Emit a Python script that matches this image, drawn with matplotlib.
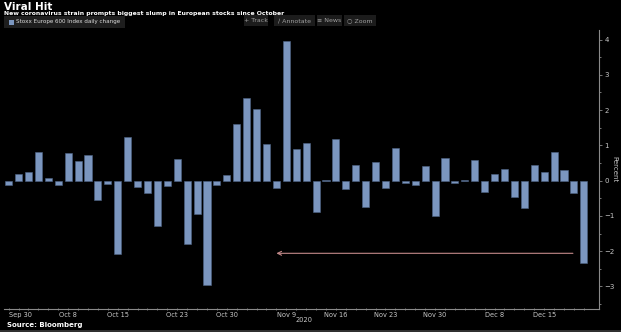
import numpy as np
import matplotlib

matplotlib.use("Agg")
import matplotlib.pyplot as plt
from matplotlib.lines import Line2D
from matplotlib.patches import Rectangle

# daily % change, Stoxx Europe 600, trading days Sep 30 -> Dec 21 2020
CHANGE = [
    -0.11, 0.19, 0.24, 0.80, 0.07, -0.11, 0.77, 0.55, 0.72, -0.56,
    -0.09, -2.08, 1.25, -0.19, -0.36, -1.30, -0.15, 0.61, -1.81, -0.94,
    -2.95, -0.11, 0.17, 1.60, 2.33, 2.04, 1.04, -0.20, 3.97, 0.89,
    1.07, -0.89, 0.01, 1.18, -0.25, 0.44, -0.75, 0.52, -0.20, 0.92,
    -0.08, -0.12, 0.42, -0.99, 0.65, -0.07, 0.01, 0.58, -0.31, 0.20,
    0.32, -0.45, -0.77, 0.43, 0.25, 0.82, 0.29, -0.35, -2.33,
]
TICK_IDX = [0, 6, 11, 17, 22, 28, 33, 38, 43, 49, 54]
TICK_LABELS = ["Sep 30", "Oct 8", "Oct 15", "Oct 23", "Oct 30", "Nov 9",
               "Nov 16", "Nov 23", "Nov 30", "Dec 8", "Dec 15"]
Y_TICKS = [-3, -2, -1, 0, 1, 2, 3, 4]
ARROW_FROM, ARROW_TO, ARROW_Y = 56.9, 27.0, -2.06

BG = "black"
BAR = "#7b96bf"
AXC = "#8a8a8a"
TXT = "#c8c8c8"

fig = plt.figure(figsize=(6.21, 3.32), dpi=100, facecolor=BG)
ax = fig.add_axes([3.7 / 621, 0.0702, 595 / 621, 0.8395], facecolor=BG)

x = np.arange(len(CHANGE))
ax.bar(x, CHANGE, width=0.72, color=BAR, edgecolor="#4e6485", linewidth=0.4)

ax.annotate("", xy=(ARROW_TO, ARROW_Y), xytext=(ARROW_FROM, ARROW_Y),
            arrowprops=dict(arrowstyle="->", color="#c48a8a", lw=0.8,
                            mutation_scale=7, shrinkA=0, shrinkB=0))

ax.set_xlim(-0.5, 59.5)
ax.set_ylim(-3.63, 4.27)
for s in ("top", "left"):
    ax.spines[s].set_visible(False)
for s in ("right", "bottom"):
    ax.spines[s].set_color(AXC)
    ax.spines[s].set_linewidth(0.8)

ax.yaxis.tick_right()
ax.yaxis.set_label_position("right")
ax.set_yticks(Y_TICKS)
ax.set_yticklabels([f"{v}".replace("-", "\u2212") for v in Y_TICKS])
ax.set_yticks(np.arange(-3.5, 4.5, 1.0), minor=True)
ax.tick_params(axis="y", which="both", colors=AXC, labelcolor=TXT,
               labelsize=5, length=2.5, width=0.6, pad=1.5)
ax.tick_params(axis="y", which="minor", length=1.5)
ax.set_ylabel("Percent", rotation=270, color=TXT, fontsize=5, labelpad=2)

ax.set_xticks(TICK_IDX)
ax.set_xticklabels(TICK_LABELS)
ax.set_xticks(x, minor=True)
ax.tick_params(axis="x", which="both", colors=AXC, labelcolor=TXT,
               labelsize=4.8, length=1.5, width=0.6, pad=1.5, direction="inout")
ax.get_xticklabels()[0].set_horizontalalignment("left")
ax.text(28 + 1.8, -0.03, "2020", transform=ax.get_xaxis_transform(),
        ha="center", va="top", fontsize=4.8, color=TXT)

# header
fig.text(4 / 621, 1 - 2 / 332, "Viral Hit", ha="left", va="top",
         fontsize=7.5, fontweight="bold", color="white")
fig.text(4 / 621, 1 - 10.5 / 332,
         "New coronavirus strain prompts biggest slump in European stocks since October",
         ha="left", va="top", fontsize=4.4, fontweight="bold", color="white")

# legend box
fig.add_artist(Rectangle((4 / 621, 1 - 28 / 332), 121 / 621, 12 / 332,
                         transform=fig.transFigure, facecolor="#1e1e1e",
                         edgecolor="none"))
fig.add_artist(Rectangle((9 / 621, 1 - 24.5 / 332), 4.5 / 621, 4.5 / 332,
                         transform=fig.transFigure, facecolor=BAR,
                         edgecolor="none"))
fig.text(16 / 621, 1 - 22 / 332, "Stoxx Europe 600 Index daily change",
         ha="left", va="center", fontsize=4.1, color="#dddddd")

# toolbar
for x0, x1, lab in [(244, 268, "+ Track"), (274, 315, "\u2215 Annotate"),
                    (317, 342, "\u2261 News"), (344, 376, "\u25cb Zoom")]:
    fig.add_artist(Rectangle((x0 / 621, 1 - 26 / 332), (x1 - x0) / 621, 11 / 332,
                             transform=fig.transFigure, facecolor="#1c1c1c",
                             edgecolor="none"))
    fig.text((x0 + x1) / 2 / 621, 1 - 20.5 / 332, lab, ha="center",
             va="center", fontsize=4.5, color="#a0a0a0")

fig.text(7 / 621, 1 - 325 / 332, "Source: Bloomberg", ha="left", va="center",
         fontsize=5, fontweight="bold", color="white")
fig.add_artist(Line2D([0, 1], [1.5 / 332, 1.5 / 332], transform=fig.transFigure,
                      color="#3a3a3a", lw=1.2))

fig.savefig("out.png", dpi=100, facecolor=BG)
